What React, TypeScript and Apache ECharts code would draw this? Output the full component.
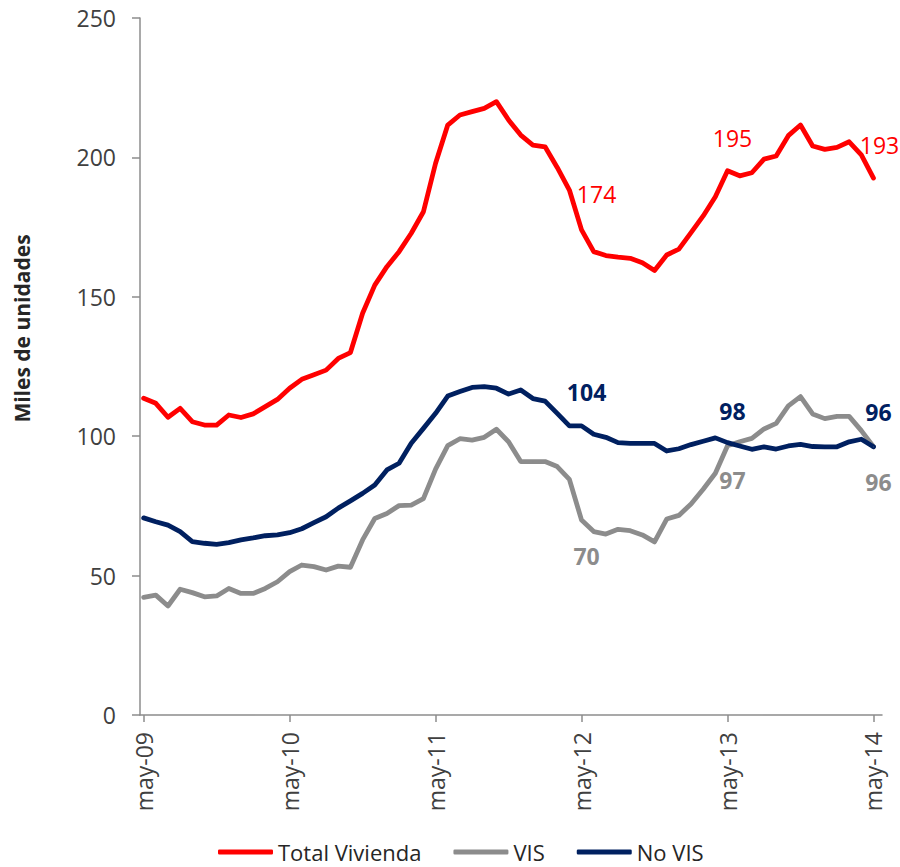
import React, { useEffect, useRef } from "react";
import * as echarts from "echarts";

// Monthly series, may-09 (index 0) to may-14 (index 60), miles de unidades
const tickLabels = ["may-09", "may-10", "may-11", "may-12", "may-13", "may-14"];
const tickIndex = [0, 12, 24, 36, 48, 60];

const totalVivienda = [
  113.6, 111.8, 106.8, 110.0, 105.2, 104.0, 104.0, 107.6, 106.7, 108.0,
  110.6, 113.2, 117.2, 120.4, 122.0, 123.7, 127.9, 130.0, 144.1, 154.2,
  160.8, 166.2, 172.8, 180.5, 197.9, 211.6, 215.2, 216.4, 217.6, 220.0,
  213.4, 208.0, 204.4, 203.8, 196.4, 188.3, 174.0, 166.2, 164.8, 164.2,
  163.8, 162.2, 159.4, 165.0, 167.1, 173.0, 179.0, 185.9, 195.2, 193.4,
  194.5, 199.4, 200.5, 207.8, 211.6, 204.1, 202.9, 203.6, 205.6, 200.9,
  192.6,
];

const vis = [
  42.2, 43.0, 39.1, 45.1, 43.9, 42.4, 42.7, 45.4, 43.6, 43.6,
  45.4, 47.8, 51.4, 53.8, 53.2, 52.0, 53.4, 53.0, 62.8, 70.5,
  72.3, 75.1, 75.3, 77.6, 88.2, 96.6, 99.1, 98.6, 99.6, 102.5,
  98.0, 90.9, 90.9, 90.9, 89.1, 84.5, 69.9, 65.8, 64.9, 66.6,
  66.1, 64.6, 62.1, 70.3, 71.6, 75.7, 81.0, 86.7, 96.6, 98.0,
  99.2, 102.6, 104.6, 110.9, 114.2, 108.0, 106.3, 107.1, 107.1, 102.0,
  96.2,
];

const noVis = [
  70.7, 69.3, 68.1, 65.8, 62.2, 61.6, 61.2, 61.8, 62.8, 63.5,
  64.3, 64.6, 65.4, 66.8, 69.0, 71.1, 74.2, 76.8, 79.5, 82.5,
  87.9, 90.3, 97.5, 102.8, 108.2, 114.4, 116.0, 117.5, 117.8, 117.2,
  115.1, 116.6, 113.5, 112.6, 108.2, 103.7, 103.7, 100.7, 99.6, 97.7,
  97.4, 97.4, 97.4, 94.7, 95.5, 97.0, 98.2, 99.4, 97.7, 96.5,
  95.3, 96.2, 95.4, 96.5, 97.1, 96.3, 96.2, 96.2, 98.0, 98.9,
  96.2,
];

const labelIdx = [36, 48, 60];

const FONT = "'Open Sans', 'Noto Sans', sans-serif";

type SeriesDef = {
  name: string;
  values: number[];
  color: string;
  labelColor: string;
  bold: boolean;
  offsets: number[][];
};

const seriesDefs: SeriesDef[] = [
  {
    name: "Total Vivienda",
    values: totalVivienda,
    color: "#FF0000",
    labelColor: "#FF0000",
    bold: false,
    offsets: [[15, -36], [5, -33], [6, -33]],
  },
  {
    name: "VIS",
    values: vis,
    color: "#8C8C8C",
    labelColor: "#8C8C8C",
    bold: true,
    offsets: [[5, 36], [5, 34], [5, 35]],
  },
  {
    name: "No VIS",
    values: noVis,
    color: "#002060",
    labelColor: "#002060",
    bold: true,
    offsets: [[5, -34], [5, -32], [5, -35]],
  },
];

export default function App() {
  const ref = useRef<HTMLDivElement>(null);

  useEffect(() => {
    document.body.style.margin = "0";
    if (!ref.current) return;
    const chart = echarts.init(ref.current, undefined, { renderer: "svg" });

    const series = seriesDefs.map((s) => ({
      name: s.name,
      type: "line",
      data: s.values.map((v, i) => {
        const k = labelIdx.indexOf(i);
        if (k >= 0) {
          return {
            value: [i, v],
            label: { show: true, offset: s.offsets[k] },
          };
        }
        return [i, v];
      }),
      symbol: "circle",
      symbolSize: 1,
      showSymbol: true,
      itemStyle: { color: s.color },
      lineStyle: { color: s.color, width: 4.8, cap: "round", join: "round" },
      label: {
        show: false,
        position: "inside",
        formatter: (p: any) => String(Math.round(p.value[1])),
        fontFamily: FONT,
        fontSize: 23,
        fontWeight: s.bold ? "bold" : "normal",
        color: s.labelColor,
      },
      emphasis: { disabled: true },
      silent: true,
    }));

    chart.setOption({
      animation: false,
      backgroundColor: "#ffffff",
      textStyle: { fontFamily: FONT },
      grid: { left: 140, right: 18, top: 18, bottom: 152, containLabel: false },
      legend: {
        left: 213,
        top: 836,
        itemWidth: 55,
        itemHeight: 5,
        itemGap: 32,
        icon: "roundRect",
        textStyle: { fontFamily: FONT, fontSize: 22, color: "#262626" },
        data: seriesDefs.map((s) => s.name),
      },
      xAxis: {
        type: "value",
        min: -0.3,
        max: 60.7,
        splitLine: { show: false },
        axisLine: { show: true, onZero: false, lineStyle: { color: "#8C8C8C", width: 1.5 } },
        axisTick: {
          show: true,
          length: 7,
          customValues: tickIndex,
          lineStyle: { color: "#8C8C8C", width: 1.5 },
        },
        axisLabel: {
          customValues: tickIndex,
          rotate: 90,
          margin: 17,
          fontFamily: FONT,
          fontSize: 23,
          color: "#404040",
          formatter: (v: number) => {
            const k = tickIndex.indexOf(Math.round(v));
            return k >= 0 ? tickLabels[k] : "";
          },
        },
      },
      yAxis: {
        type: "value",
        min: 0,
        max: 250,
        interval: 50,
        name: "Miles de unidades",
        nameLocation: "middle",
        nameRotate: 90,
        nameGap: 108,
        nameTextStyle: {
          fontFamily: FONT,
          fontSize: 21,
          fontWeight: "bold",
          color: "#262626",
          padding: [0, 0, 0, 76],
        },
        splitLine: { show: false },
        axisLine: { show: true, onZero: false, lineStyle: { color: "#8C8C8C", width: 1.5 } },
        axisTick: { show: true, length: 8, lineStyle: { color: "#8C8C8C", width: 1.5 } },
        axisLabel: {
          margin: 24,
          fontFamily: FONT,
          fontSize: 23,
          color: "#404040",
        },
      },
      series,
    });

    return () => chart.dispose();
  }, []);

  return (
    <div
      ref={ref}
      style={{ position: "absolute", left: 0, top: 0, width: 900, height: 867 }}
    />
  );
}
